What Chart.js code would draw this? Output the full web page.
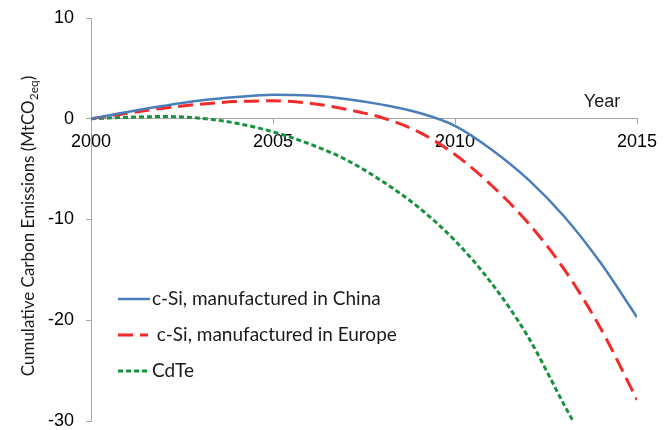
<!DOCTYPE html>
<html>
<head>
<meta charset="utf-8">
<script src="https://cdn.jsdelivr.net/npm/chart.js@4.4.1/dist/chart.umd.min.js"></script>
<style>
  html, body { margin: 0; padding: 0; background: #ffffff; }
  #wrap { width: 671px; height: 430px; }
</style>
</head>
<body>
<div id="wrap"><canvas id="chart" width="671" height="430"></canvas></div>
<script>
// Cumulative carbon emissions (MtCO2eq) by year
const years = [2000, 2001, 2002, 2003, 2004, 2005, 2006, 2007, 2008, 2009, 2010, 2011, 2012, 2013, 2014, 2015];
const chinaValues = [0, 0.68, 1.28, 1.8, 2.15, 2.37, 2.3, 1.97, 1.4, 0.6, -0.7, -3.05, -6.0, -9.7, -14.3, -19.7];
const europeValues = [0, 0.55, 1.05, 1.45, 1.7, 1.78, 1.55, 0.95, 0.1, -1.3, -3.55, -6.6, -10.3, -14.95, -20.8, -27.9];
const cdteYears = [2000, 2001, 2002, 2003, 2004, 2005, 2006, 2007, 2008, 2009, 2010, 2011, 2012, 2013, 2013.24];
const cdteValues = [0, 0.15, 0.22, 0.05, -0.45, -1.3, -2.5, -4.05, -6.2, -8.8, -12.1, -16.3, -21.6, -28.4, -30];

const seriesLabels = ['c-Si, manufactured in China', ' c-Si, manufactured in Europe', 'CdTe'];
const xTickValues = [2000, 2005, 2010, 2015];
const yTickValues = [-30, -20, -10, 0, 10];
const yAxisTitle = ['Cumulative Carbon Emissions (MtCO', '2eq', ')'];
const xAxisTitle = 'Year';

const toPoints = (xs, ys) => xs.map((x, i) => ({ x: x, y: ys[i] }));

const AXIS_GREY = '#a6a6a6';
const TICK_FONT = { family: "'Liberation Sans', Arial, sans-serif", size: 18 };
const LABEL_FAMILY = "Lato, 'Open Sans', sans-serif";

// Legend drawn inside the plot area, lower left
const insideLegend = {
  id: 'insideLegend',
  afterDraw(chart) {
    const ctx = chart.ctx;
    const rows = [299, 335, 371];
    ctx.save();
    chart.data.datasets.forEach((ds, i) => {
      const y = rows[i];
      ctx.beginPath();
      ctx.strokeStyle = ds.borderColor;
      ctx.lineWidth = ds.borderWidth;
      ctx.setLineDash(ds.borderDash || []);
      ctx.moveTo(118, y);
      ctx.lineTo(i === 1 ? 148 : 150, y);
      ctx.stroke();
      ctx.setLineDash([]);
      ctx.fillStyle = '#1a1a1a';
      ctx.font = '19px ' + LABEL_FAMILY;
      ctx.textBaseline = 'middle';
      ctx.textAlign = 'left';
      ctx.fillText(ds.label, 152, y);
    });
    ctx.restore();
  }
};

// Axis titles: rotated y title with subscript, and "Year" above the x axis
const axisTitles = {
  id: 'axisTitles',
  afterDraw(chart) {
    const ctx = chart.ctx;
    const xs = chart.scales.x, ys = chart.scales.y;
    ctx.save();
    ctx.fillStyle = '#1a1a1a';
    // y title
    const mainFont = '17px ' + LABEL_FAMILY;
    const subFont = '12px ' + LABEL_FAMILY;
    ctx.font = mainFont;
    const w1 = ctx.measureText(yAxisTitle[0]).width;
    const w3 = ctx.measureText(yAxisTitle[2]).width;
    ctx.font = subFont;
    const w2 = ctx.measureText(yAxisTitle[1]).width;
    const total = w1 + w2 + w3;
    ctx.translate(34, 226);
    ctx.rotate(-Math.PI / 2);
    ctx.textBaseline = 'alphabetic';
    ctx.textAlign = 'left';
    const x0 = -total / 2;
    ctx.font = mainFont;
    ctx.fillText(yAxisTitle[0], x0, 0);
    ctx.font = subFont;
    ctx.fillText(yAxisTitle[1], x0 + w1, 4);
    ctx.font = mainFont;
    ctx.fillText(yAxisTitle[2], x0 + w1 + w2, 0);
    ctx.setTransform(1, 0, 0, 1, 0, 0);
    // x title
    ctx.font = "18px 'Liberation Sans', Arial, sans-serif";
    ctx.textAlign = 'center';
    ctx.textBaseline = 'alphabetic';
    ctx.fillText(xAxisTitle, xs.getPixelForValue(2014.04), ys.getPixelForValue(0) - 12);
    ctx.restore();
  }
};

new Chart(document.getElementById('chart'), {
  type: 'line',
  data: {
    datasets: [
      {
        label: seriesLabels[0],
        data: toPoints(years, chinaValues),
        borderColor: '#4a7ebb',
        borderWidth: 2.5,
        pointRadius: 0,
        cubicInterpolationMode: 'monotone'
      },
      {
        label: seriesLabels[1],
        data: toPoints(years, europeValues),
        borderColor: '#f52a2a',
        borderWidth: 3,
        borderDash: [15, 7],
        pointRadius: 0,
        cubicInterpolationMode: 'monotone'
      },
      {
        label: seriesLabels[2],
        data: toPoints(cdteYears, cdteValues),
        borderColor: '#17923f',
        borderWidth: 3,
        borderDash: [5, 3],
        pointRadius: 0,
        cubicInterpolationMode: 'monotone'
      }
    ]
  },
  options: {
    responsive: false,
    animation: false,
    devicePixelRatio: 1,
    layout: { padding: { left: 0, top: 18, right: 34, bottom: 9 } },
    plugins: {
      legend: { display: false },
      tooltip: { enabled: false }
    },
    scales: {
      x: {
        type: 'linear',
        position: { y: 0 },
        min: 2000,
        max: 2015,
        afterBuildTicks(scale) { scale.ticks = xTickValues.map(v => ({ value: v })); },
        ticks: {
          color: '#000000',
          font: TICK_FONT,
          padding: 7,
          maxRotation: 0,
          callback: v => String(v)
        },
        grid: { drawOnChartArea: false, drawTicks: true, tickLength: 5, color: AXIS_GREY },
        border: { display: true, color: AXIS_GREY, width: 1 }
      },
      y: {
        type: 'linear',
        position: 'left',
        min: -30,
        max: 10,
        afterBuildTicks(scale) { scale.ticks = yTickValues.map(v => ({ value: v })); },
        afterFit(scale) {
          scale.width = 91;
          scale.paddingTop = 0;
          scale.paddingBottom = 0;
        },
        ticks: {
          color: '#000000',
          font: TICK_FONT,
          padding: 12,
          callback: v => String(v)
        },
        grid: { drawOnChartArea: false, drawTicks: true, tickLength: 5, color: AXIS_GREY },
        border: { display: true, color: AXIS_GREY, width: 1 }
      }
    }
  },
  plugins: [insideLegend, axisTitles]
});
</script>
</body>
</html>
